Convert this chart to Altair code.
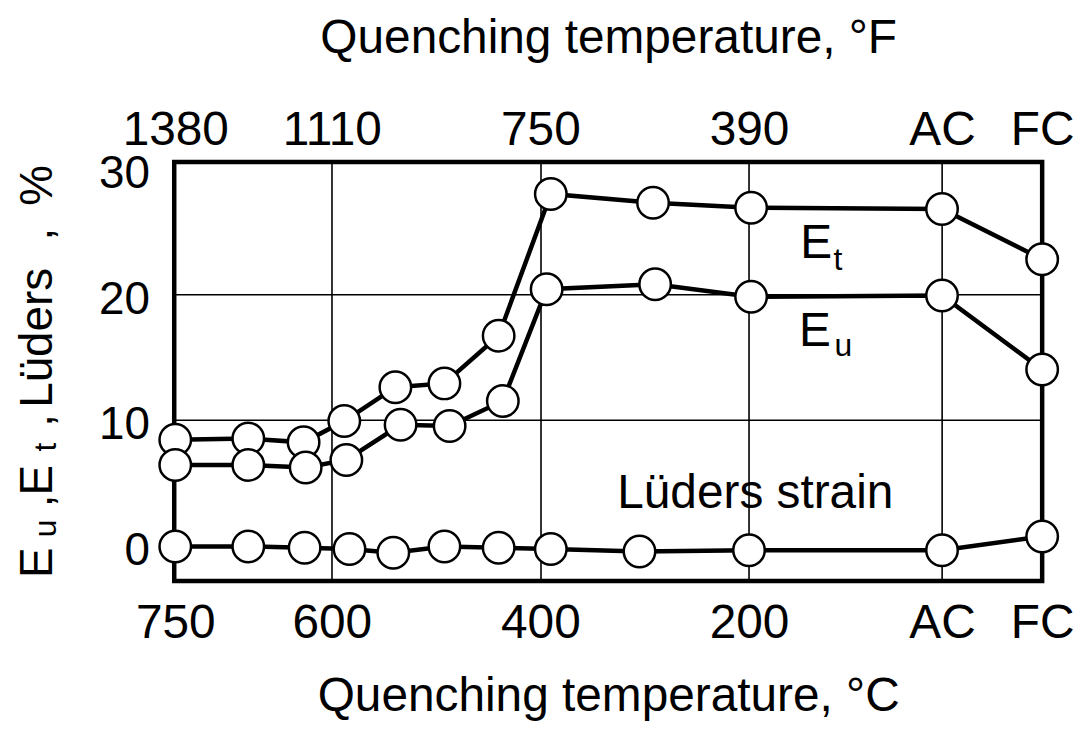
import altair as alt
import pandas as pd

# ---------------- data ----------------
series_names = ["Et", "Eu", "Lüders strain"]

et_temp = [750, 680, 627, 588, 539, 492, 440, 390, 292, 198, "AC", "FC"]
et_val = [8.4, 8.5, 8.2, 9.9, 12.6, 12.9, 16.7, 28.0, 27.3, 26.9, 26.8, 22.8]

eu_temp = [750, 680, 625, 586, 534, 487, 436, 394, 290, 198, "AC", "FC"]
eu_val = [6.4, 6.4, 6.2, 6.8, 9.6, 9.5, 11.5, 20.4, 20.8, 19.8, 19.9, 14.0]

lu_temp = [750, 680, 626, 583, 541, 492, 440, 390, 305, 200, "AC", "FC"]
lu_val = [-0.1, -0.1, -0.2, -0.3, -0.6, -0.1, -0.2, -0.3, -0.5, -0.4, -0.4, 0.7]

bottom_ticks = [750, 600, 400, 200, "AC", "FC"]
bottom_labels = ["750", "600", "400", "200", "AC", "FC"]
top_labels = ["1380", "1110", "750", "390", "AC", "FC"]
y_ticks = [0, 10, 20, 30]
y_grid = [10, 20]

# AC / FC are cooling modes, placed on the temperature axis past room temperature
special_pos = {"AC": 15, "FC": -81}


def pos(t):
    return special_pos[t] if isinstance(t, str) else t


rows = []
for name, temps, vals in [(series_names[0], et_temp, et_val),
                          (series_names[1], eu_temp, eu_val),
                          (series_names[2], lu_temp, lu_val)]:
    for i, (t, v) in enumerate(zip(temps, vals)):
        rows.append({"series": name, "order": i, "T": pos(t), "v": v})
df = pd.DataFrame(rows)

tick_pos = [pos(t) for t in bottom_ticks]
grid_pos = tick_pos[1:-1]


def label_expr(labels):
    expr = "''"
    for p, lab in reversed(list(zip(tick_pos, labels))):
        expr = f"datum.value == {p} ? '{lab}' : ({expr})"
    return expr


FONT = "Liberation Sans"
FS = 48
x_dom = [751, -81]
y_dom = [-2.85, 30.55]

x_scale = alt.Scale(domain=x_dom, nice=False, zero=False)
y_scale = alt.Scale(domain=y_dom, nice=False, zero=False)

x_bottom = alt.Axis(
    orient="bottom", values=tick_pos, labelExpr=label_expr(bottom_labels),
    grid=False, ticks=False, domain=False, labelFlush=False, labelOverlap=False,
    labelFont=FONT, labelFontSize=FS, labelColor="black",
    labelBaseline="alphabetic", labelPadding=57,
    title="Quenching temperature, °C", titleFont=FONT, titleFontSize=FS,
    titleFontWeight="normal", titleColor="black",
    titleBaseline="alphabetic", titleY=130,
)

x_top = alt.Axis(
    orient="top", values=tick_pos, labelExpr=label_expr(top_labels),
    grid=False, ticks=False, domain=False, labelFlush=False, labelOverlap=False,
    labelFont=FONT, labelFontSize=FS, labelColor="black",
    labelBaseline="alphabetic", labelPadding=18,
    title="Quenching temperature, °F", titleFont=FONT, titleFontSize=FS,
    titleFontWeight="normal", titleColor="black",
    titleBaseline="alphabetic", titleY=-110,
)

x_grid_axis = alt.Axis(
    orient="bottom", values=grid_pos, grid=True, gridColor="black",
    gridWidth=1.6, labels=False, ticks=False, domain=False, title=None,
)

y_label_axis = alt.Axis(
    orient="left", values=y_ticks, grid=False, ticks=False, domain=False,
    labelFont=FONT, labelFontSize=46, labelColor="black", labelPadding=25,
    labelOffset=5, labelFlush=False, labelOverlap=False, title=None,
)

y_grid_axis = alt.Axis(
    orient="left", values=y_grid, grid=True, gridColor="black", gridWidth=1.6,
    labels=False, ticks=False, domain=False, title=None,
)

base = alt.Chart(df)

# grid-only layer (invisible marks) carries the grid axes
grid_layer = base.mark_point(opacity=0).encode(
    x=alt.X("T:Q", scale=x_scale, axis=x_grid_axis),
    y=alt.Y("v:Q", scale=y_scale, axis=y_grid_axis),
)

lines = base.mark_line(color="black", strokeWidth=4.5).encode(
    x=alt.X("T:Q", scale=x_scale, axis=x_bottom),
    y=alt.Y("v:Q", scale=y_scale, axis=y_label_axis),
    detail="series:N",
    order="order:Q",
)

points = base.mark_point(shape="circle", filled=True, fill="white",
                         stroke="black", strokeWidth=2.5, size=1000,
                         opacity=1).encode(
    x=alt.X("T:Q", scale=x_scale, axis=x_top),
    y=alt.Y("v:Q", scale=y_scale, axis=None),
)

# in-plot labels E_t, E_u, Lüders strain
ann_main = pd.DataFrame({"txt": ["E", "E", "Lüders strain"],
                         "T": [151, 152, 194], "v": [24.0, 17.0, 4.1]})
ann_sub = pd.DataFrame({"txt": ["t", "u"], "T": [119, 118], "v": [22.7, 15.9]})

t_main_a = alt.Chart(ann_main.iloc[:2]).mark_text(
    font=FONT, fontSize=FS, color="black", baseline="middle", align="left").encode(
    x=alt.X("T:Q", scale=x_scale, axis=None),
    y=alt.Y("v:Q", scale=y_scale, axis=None),
    text="txt:N")
t_main_b = alt.Chart(ann_main.iloc[2:]).mark_text(
    font=FONT, fontSize=FS, color="black", baseline="middle", align="center").encode(
    x=alt.X("T:Q", scale=x_scale, axis=None),
    y=alt.Y("v:Q", scale=y_scale, axis=None),
    text="txt:N")
t_sub = alt.Chart(ann_sub).mark_text(
    font=FONT, fontSize=32, color="black", baseline="middle", align="left").encode(
    x=alt.X("T:Q", scale=x_scale, axis=None),
    y=alt.Y("v:Q", scale=y_scale, axis=None),
    text="txt:N")

# rotated y-axis title "E_u , E_t , Lüders, %" built from pieces (pixel layout)
TS = 46
title_pieces = [
    ("E", 418, TS, -123),
    ("u", 377, 32, -119),
    (",", 347, TS, -123),
    ("E", 335, TS, -123),
    ("t", 291, 32, -119),
    (",", 266, TS, -123),
    ("Lüders", 247, TS, -123),
    (",", 79, TS, -123),
    ("%", 44, TS, -123),
]
ytitle_layers = []
for txt, yy, fs, xx in title_pieces:
    ytitle_layers.append(
        alt.Chart(pd.DataFrame({"t": [txt]})).mark_text(
            font=FONT, fontSize=fs, color="black", angle=270,
            align="left", baseline="alphabetic").encode(
            x=alt.value(xx), y=alt.value(yy), text="t:N")
    )

chart = alt.layer(grid_layer, lines, points, t_main_a, t_main_b, t_sub,
                  *ytitle_layers).resolve_axis(
    x="independent", y="independent"
).properties(
    width=872, height=421,
    autosize=alt.AutoSizeParams(type="none"),
    padding={"left": 167, "top": 153, "right": 34, "bottom": 140},
    background="white",
).configure_view(stroke="black", strokeWidth=4.5)

chart.save("out.html", embed_options={"renderer": "svg", "actions": False})
